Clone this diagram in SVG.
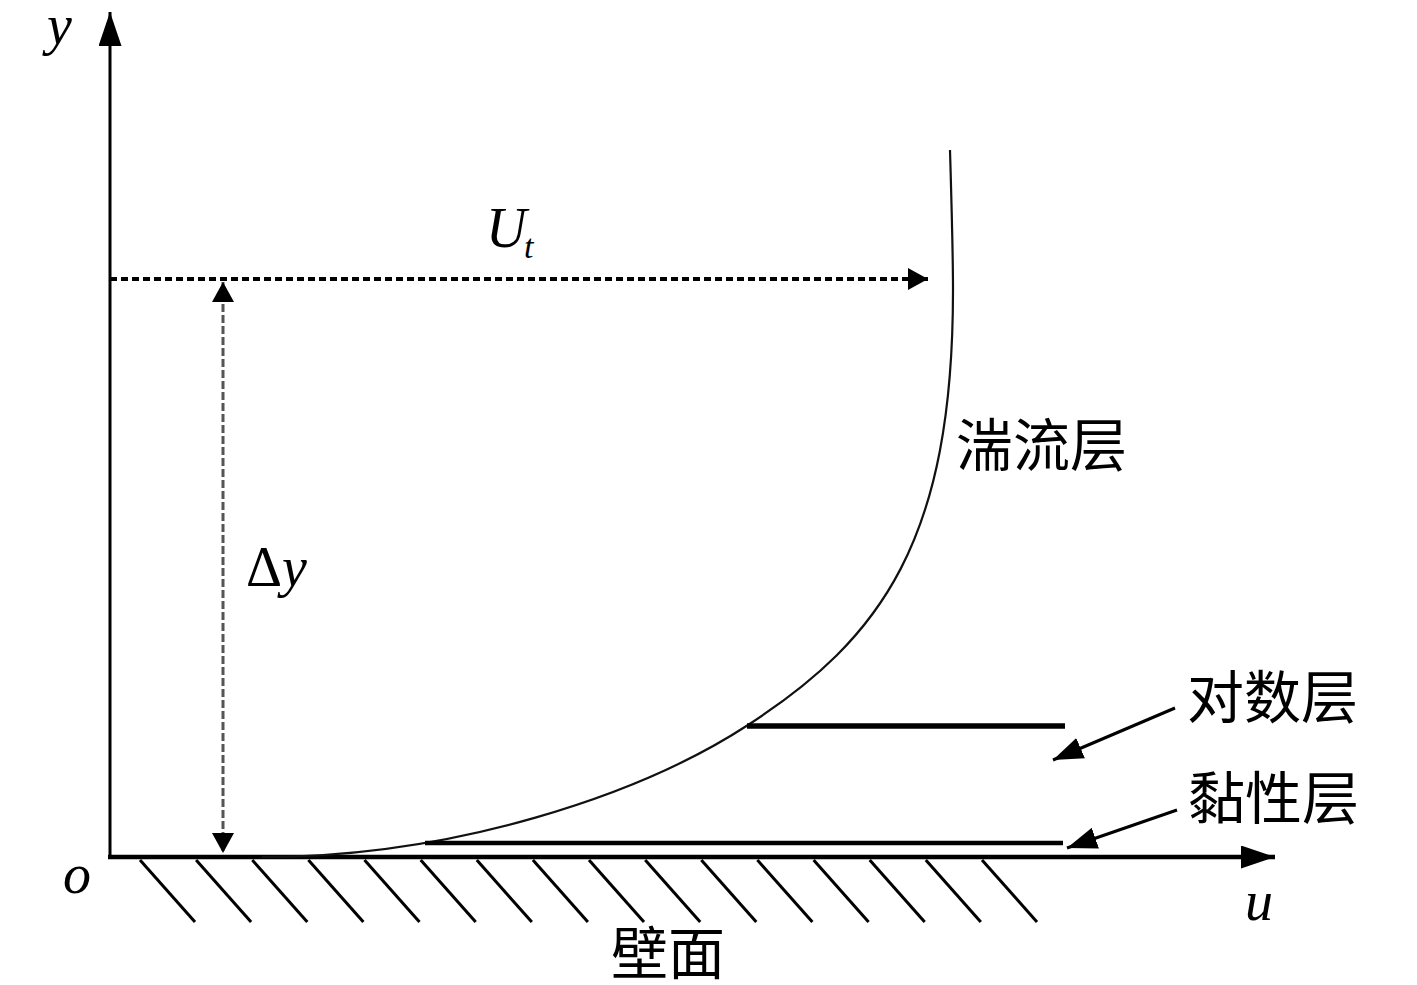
<svg xmlns="http://www.w3.org/2000/svg" width="1417" height="985" viewBox="0 0 1417 985">
  <style>
    .lat { font-family: "Liberation Serif", "Times New Roman", serif; font-style: italic; font-size: 56px; fill: #000; }
    .up { font-family: "Liberation Serif", "Times New Roman", serif; font-size: 56px; fill: #000; }
    .cjk { font-family: "Liberation Serif", "Noto Sans CJK SC", serif; font-size: 57px; fill: #000; }
    .axis { stroke: #000; fill: none; }
    .hatch { stroke: #000; stroke-width: 3; }
    .layer { stroke: #000; }
  </style>
  <defs>
    <marker id="axisHead" viewBox="0 0 34 23" markerWidth="34" markerHeight="23" refX="34" refY="11.5" orient="auto" markerUnits="userSpaceOnUse">
      <path d="M0,0 L34,11.5 L0,23 z" fill="#000"/>
    </marker>
    <marker id="smallHead" viewBox="0 0 20 22" markerWidth="20" markerHeight="22" refX="20" refY="11" orient="auto-start-reverse" markerUnits="userSpaceOnUse">
      <path d="M0,0 L20,11 L0,22 z" fill="#000"/>
    </marker>
    <marker id="labelHead" viewBox="0 0 30 22" markerWidth="30" markerHeight="22" refX="30" refY="11" orient="auto" markerUnits="userSpaceOnUse">
      <path d="M0,0 L30,11 L0,22 z" fill="#000"/>
    </marker>
  </defs>
  <rect width="1417" height="985" fill="#fff"/>

  <g id="axes">
    <line class="axis" x1="110" y1="859" x2="110" y2="12" stroke-width="3" marker-end="url(#axisHead)"/>
    <line class="axis" x1="108" y1="857" x2="1275" y2="857" stroke-width="4.5" marker-end="url(#axisHead)"/>
  </g>

  <g id="wall-hatch">
    <line class="hatch" x1="140" y1="860" x2="195" y2="922"/>
    <line class="hatch" x1="196.1" y1="860" x2="251.1" y2="922"/>
    <line class="hatch" x1="252.3" y1="860" x2="307.3" y2="922"/>
    <line class="hatch" x1="308.4" y1="860" x2="363.4" y2="922"/>
    <line class="hatch" x1="364.5" y1="860" x2="419.5" y2="922"/>
    <line class="hatch" x1="420.7" y1="860" x2="475.7" y2="922"/>
    <line class="hatch" x1="476.8" y1="860" x2="531.8" y2="922"/>
    <line class="hatch" x1="532.9" y1="860" x2="587.9" y2="922"/>
    <line class="hatch" x1="589" y1="860" x2="644" y2="922"/>
    <line class="hatch" x1="645.2" y1="860" x2="700.2" y2="922"/>
    <line class="hatch" x1="701.3" y1="860" x2="756.3" y2="922"/>
    <line class="hatch" x1="757.4" y1="860" x2="812.4" y2="922"/>
    <line class="hatch" x1="813.6" y1="860" x2="868.6" y2="922"/>
    <line class="hatch" x1="869.7" y1="860" x2="924.7" y2="922"/>
    <line class="hatch" x1="925.8" y1="860" x2="980.8" y2="922"/>
    <line class="hatch" x1="982" y1="860" x2="1037" y2="922"/>
  </g>

  <g id="velocity-profile">
    <path d="M262,857 C452,857 639,796 748,725 C882,638 953,540 953,290 C953,250 951,185 950,150" fill="none" stroke="#111" stroke-width="2.2"/>
  </g>

  <g id="layer-lines">
    <line class="layer" x1="747" y1="726" x2="1065" y2="726" stroke-width="5.5"/>
    <line class="layer" x1="425" y1="843" x2="1063" y2="843" stroke-width="4.5"/>
  </g>

  <g id="connectors">
    <line x1="110" y1="279" x2="928" y2="279" stroke="#000" stroke-width="4" stroke-dasharray="7 4" marker-end="url(#smallHead)"/>
    <line x1="223" y1="282" x2="223" y2="853" stroke="#555" stroke-width="3" stroke-dasharray="8 3" marker-start="url(#smallHead)" marker-end="url(#smallHead)"/>
    <line x1="1175" y1="708" x2="1053" y2="760" stroke="#000" stroke-width="3" marker-end="url(#labelHead)"/>
    <line x1="1177" y1="810" x2="1067" y2="848" stroke="#000" stroke-width="3" marker-end="url(#labelHead)"/>
  </g>

  <g id="labels">
    <text class="lat" x="47" y="44">y</text>
    <text class="lat" x="63" y="893">o</text>
    <text class="lat" x="1245" y="920">u</text>
    <text class="lat" x="486" y="247">U</text>
    <text class="lat" x="524" y="258" style="font-size:34px">t</text>
    <text x="246" y="586"><tspan class="up">Δ</tspan><tspan class="lat">y</tspan></text>
  </g>

  <g id="label-turbulent"><text class="cjk" x="956" y="466">湍流层</text></g>
  <g id="label-log"><text class="cjk" x="1187" y="718">对数层</text></g>
  <g id="label-viscous"><text class="cjk" x="1188" y="819">黏性层</text></g>
  <g id="label-wall"><text class="cjk" x="611" y="974">壁面</text></g>
</svg>
